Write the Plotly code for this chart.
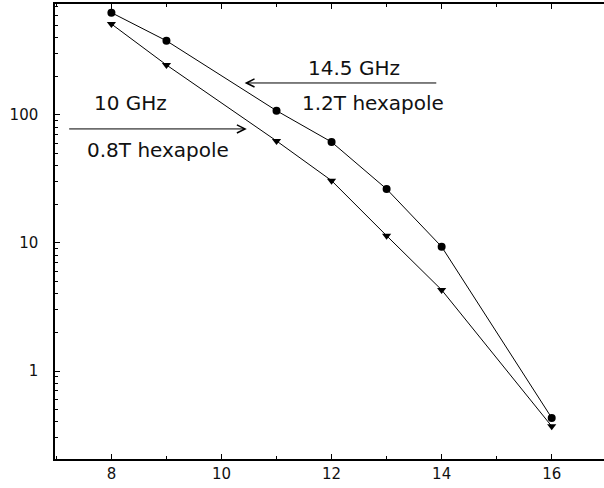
import plotly.graph_objects as go

charge_states = [8, 9, 11, 12, 13, 14, 16]
ghz14_5 = [630, 380, 108, 61.5, 26.4, 9.35, 0.43]
ghz10 = [514, 246, 62.7, 30.7, 11.4, 4.3, 0.37]

x_ticks = [8, 10, 12, 14, 16]
y_ticks = [1, 10, 100]
y_tick_text = ["1", "10", "100"]

fig = go.Figure()
fig.add_trace(go.Scatter(x=charge_states, y=ghz14_5, mode="lines+markers",
                         line=dict(color="black", width=1),
                         marker=dict(symbol="circle", size=8, color="black"),
                         name="14.5 GHz"))
fig.add_trace(go.Scatter(x=charge_states, y=ghz10, mode="lines+markers",
                         line=dict(color="black", width=1),
                         marker=dict(symbol="triangle-down", size=8, color="black"),
                         name="10 GHz"))

fnt = dict(family="DejaVu Sans", size=20, color="#111")
ann = []
ann.append(dict(x=8.34, y=2.094, xref="x", yref="y", text="10 GHz", showarrow=False, font=fnt))
ann.append(dict(x=8.84, y=1.727, xref="x", yref="y", text="0.8T hexapole", showarrow=False, font=fnt))
ann.append(dict(x=12.40, y=2.367, xref="x", yref="y", text="14.5 GHz", showarrow=False, font=fnt))
ann.append(dict(x=12.75, y=2.094, xref="x", yref="y", text="1.2T hexapole", showarrow=False, font=fnt))
ann.append(dict(x=10.46, y=1.891, ax=7.205, ay=1.891, xref="x", yref="y", axref="x", ayref="y",
                text="", showarrow=True, arrowhead=5, arrowsize=1.6, arrowwidth=1, arrowcolor="black"))
ann.append(dict(x=10.42, y=2.25, ax=13.93, ay=2.25, xref="x", yref="y", axref="x", ayref="y",
                text="", showarrow=True, arrowhead=5, arrowsize=1.6, arrowwidth=1, arrowcolor="black"))

fig.update_layout(
    width=604, height=488,
    margin=dict(l=55, r=0, t=4, b=29, autoexpand=False),
    paper_bgcolor="white", plot_bgcolor="white",
    showlegend=False,
    annotations=ann,
    font=dict(family="DejaVu Sans", size=14, color="#111"),
)
fig.update_xaxes(range=[6.975, 16.95], tickvals=x_ticks, ticks="inside", ticklen=5,
                 tickcolor="black", showline=True, linecolor="black", linewidth=1.5,
                 mirror="ticks", showgrid=False, zeroline=False,
                 minor=dict(dtick=1, ticks="inside", ticklen=3, tickcolor="black"),
                 tickfont=dict(size=15), ticklabelstandoff=0)
fig.update_yaxes(type="log", range=[-0.6875, 2.867], tickvals=y_ticks, ticktext=y_tick_text,
                 ticks="inside", ticklen=5, tickcolor="black", showline=True,
                 linecolor="black", linewidth=1.5, showgrid=False, zeroline=False,
                 minor=dict(dtick="D1", ticks="inside", ticklen=3, tickcolor="black"),
                 tickfont=dict(size=15), ticklabelstandoff=12)

fig.write_html("out.html", config={"displayModeBar": False},
               post_script="document.body.style.margin='0';document.body.style.overflow='hidden';")
